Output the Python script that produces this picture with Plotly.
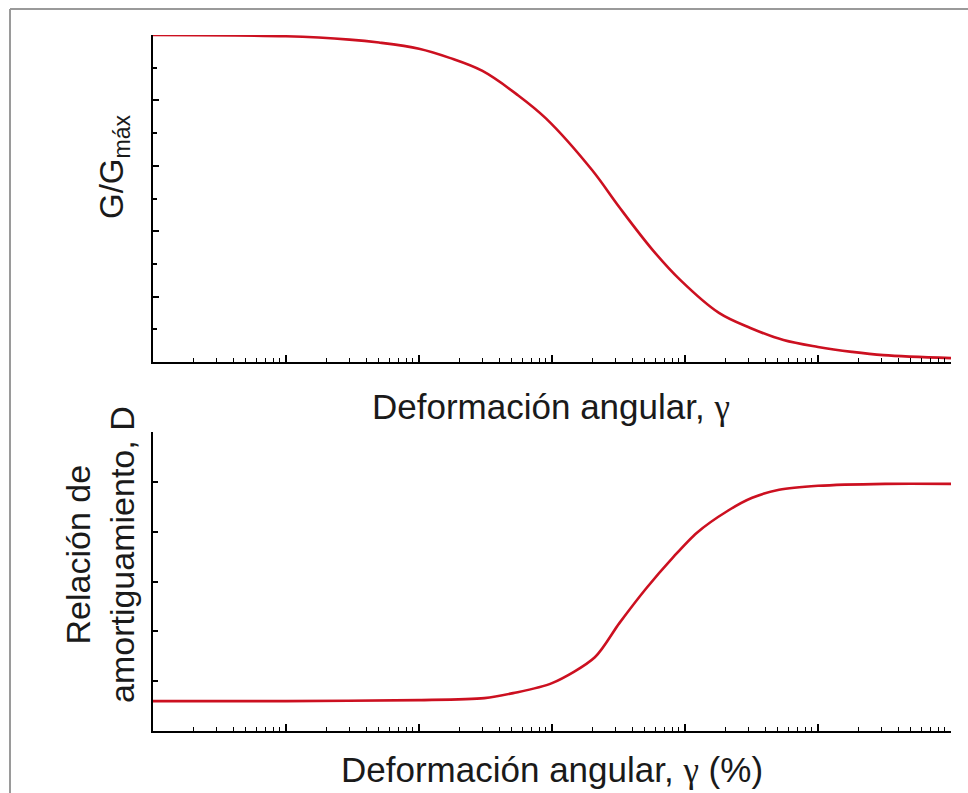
import plotly.graph_objects as go

# Shear strain (%) and normalized shear modulus G/Gmax
strain_g = [0.0001, 0.001, 0.003, 0.005, 0.01, 0.017, 0.03, 0.055, 0.09,
            0.2, 0.32, 0.57, 0.92, 1.8, 3.1, 5.5, 10, 18, 31, 100]
g_ratio = [1.000, 0.996, 0.986, 0.977, 0.958, 0.930, 0.890, 0.817, 0.745,
           0.587, 0.474, 0.343, 0.251, 0.150, 0.104, 0.067, 0.046, 0.031, 0.021, 0.012]

# Shear strain (%) and damping ratio D (%)
strain_d = [0.0001, 0.001, 0.01, 0.031, 0.051, 0.1, 0.21, 0.32, 0.51,
            0.81, 1.23, 2.1, 3.2, 5.1, 10, 32, 100]
damping = [3.0, 3.0, 3.1, 3.3, 3.8, 4.8, 7.4, 10.8, 14.3,
           17.4, 19.9, 22.1, 23.4, 24.2, 24.6, 24.8, 24.8]

W, H = 968, 793
RED = "#cc1020"
FONT = "Liberation Sans, Arial, sans-serif"
TEXT = "#1a1a1a"


def px(x):
    return x / W


def py(y):
    return 1 - y / H


fig = go.Figure()
fig.add_trace(go.Scatter(x=strain_g, y=g_ratio, mode="lines",
                         line=dict(color=RED, width=2.6, shape="spline", smoothing=1.0),
                         xaxis="x", yaxis="y", showlegend=False))
fig.add_trace(go.Scatter(x=strain_d, y=damping, mode="lines",
                         line=dict(color=RED, width=2.6, shape="spline", smoothing=0.8),
                         xaxis="x2", yaxis="y2", showlegend=False))

xdom = [px(153), px(951)]
xcommon = dict(type="log", range=[-4, 2], domain=xdom, showline=True, linecolor="black",
               linewidth=2, ticks="inside", ticklen=7, tickwidth=1.5, tickcolor="black",
               dtick=1, showticklabels=False, showgrid=False, zeroline=False,
               minor=dict(ticks="inside", ticklen=4, tickwidth=1.2, tickcolor="black",
                          dtick="D1", showgrid=False))
ycommon = dict(showline=True, linecolor="black", linewidth=2, ticks="inside",
               tickcolor="black", tickwidth=1.5, showticklabels=False,
               showgrid=False, zeroline=False)

fig.update_layout(
    width=W, height=H,
    margin=dict(l=0, r=0, t=0, b=0),
    paper_bgcolor="white", plot_bgcolor="white",
    xaxis=dict(**xcommon, anchor="y"),
    yaxis=dict(**ycommon, range=[0, 1], dtick=0.2, ticklen=6,
               domain=[py(362), py(35)], anchor="x",
               minor=dict(ticks="inside", ticklen=4, tickcolor="black", dtick=0.1)),
    xaxis2=dict(**xcommon, anchor="y2"),
    yaxis2=dict(**ycommon, range=[0, 30], dtick=5, ticklen=5,
                domain=[py(731), py(432)], anchor="x2"),
    font=dict(family=FONT, color=TEXT),
)

gamma = '<span style="font-family:Liberation Serif, Times New Roman, serif">γ</span>'
labels = [
    dict(text="Deformación angular, " + gamma, x=px(551), y=py(407), angle=0, size=35),
    dict(text="Deformación angular, " + gamma + " (%)", x=px(552), y=py(770), angle=0, size=35),
    dict(text="G/G<sub>máx</sub>", x=px(114), y=py(167), angle=-90, size=33),
    dict(text="Relación de<br>amortiguamiento, D", x=px(100), y=py(555), angle=-90, size=34),
]
for lab in labels:
    fig.add_annotation(text=lab["text"], x=lab["x"], y=lab["y"], xref="paper", yref="paper",
                       xanchor="center", yanchor="middle", textangle=lab["angle"],
                       showarrow=False, font=dict(size=lab["size"], family=FONT, color=TEXT))

# Frame around the figure (left and top edges)
fig.add_shape(type="line", xref="paper", yref="paper", x0=px(10), x1=px(10), y0=0, y1=py(9),
              line=dict(color="#9a9a9a", width=2))
fig.add_shape(type="line", xref="paper", yref="paper", x0=px(10), x1=1, y0=py(9), y1=py(9),
              line=dict(color="#9a9a9a", width=2))

fig.write_html("out.html")
